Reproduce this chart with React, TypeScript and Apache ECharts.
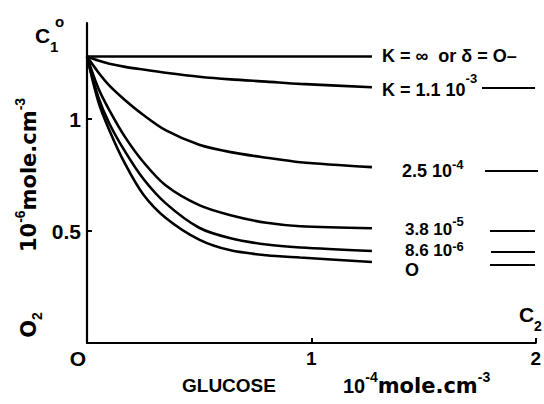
import React, { useEffect, useRef } from 'react';
import * as echarts from 'echarts';

// glucose concentration C2 (10^-4 mole.cm^-3)
const glucose = [0, 0.05, 0.1, 0.17, 0.25, 0.35, 0.5, 0.64, 0.8, 0.95, 1.27];
// O2 concentration (10^-6 mole.cm^-3) for each K
const kInfinite = [1.28, 1.28, 1.28, 1.28, 1.28, 1.28, 1.28, 1.28, 1.28, 1.28, 1.28];
const k11e3 = [1.28, 1.262, 1.248, 1.234, 1.222, 1.208, 1.19, 1.178, 1.168, 1.158, 1.143];
const k25e4 = [1.28, 1.21, 1.15, 1.085, 1.02, 0.951, 0.886, 0.853, 0.828, 0.808, 0.786];
const k38e5 = [1.28, 1.14, 1.04, 0.92, 0.81, 0.705, 0.616, 0.571, 0.537, 0.522, 0.513];
const k86e6 = [1.28, 1.1, 0.98, 0.855, 0.735, 0.625, 0.515, 0.468, 0.44, 0.427, 0.411];
const kZero = [1.28, 1.08, 0.95, 0.8, 0.665, 0.56, 0.462, 0.414, 0.392, 0.382, 0.362];

const curves = [kInfinite, k11e3, k25e4, k38e5, k86e6, kZero];
const labelMain = ['K = ∞  or δ = O–', 'K = 1.1 10', '2.5 10', '3.8 10', '8.6 10', 'O'];
const labelExp = ['', '-3', '-4', '-5', '-6', ''];

const xTicks = [1, 2];
const yTicks = [0.5, 1];

const SANS = '"Liberation Sans", Arial, sans-serif';
const WIDE = '"DejaVu Sans", sans-serif';

type Piece = { text: string; size: number; family?: string; dy?: number };

let measureCtx: CanvasRenderingContext2D | null = null;
function measure(p: Piece): number {
  if (!measureCtx) measureCtx = document.createElement('canvas').getContext('2d');
  measureCtx!.font = 'bold ' + p.size + 'px ' + (p.family || SANS);
  return measureCtx!.measureText(p.text).width;
}

// lays out a run of text pieces (with super/subscripts) along a baseline direction
function run(x0: number, y0: number, pieces: Piece[], rotation = 0, align = 'left'): any[] {
  const widths = pieces.map(measure);
  const total = widths.reduce((a, b) => a + b, 0);
  let t = align === 'center' ? -total / 2 : 0;
  const out: any[] = [];
  pieces.forEach((p, i) => {
    const c = t + widths[i] / 2;
    const dy = p.dy || 0;
    let x: number;
    let y: number;
    if (rotation) {
      x = x0 + dy;
      y = y0 - c;
    } else {
      x = x0 + c;
      y = y0 + dy;
    }
    out.push({
      type: 'text',
      x,
      y,
      rotation,
      silent: true,
      style: {
        text: p.text,
        align: 'center',
        verticalAlign: 'middle',
        textAlign: 'center',
        textVerticalAlign: 'middle',
        fill: '#000',
        fontFamily: p.family || SANS,
        fontWeight: 'bold',
        fontSize: p.size,
      },
    });
    t += widths[i];
  });
  return out;
}

function seg(x1: number, x2: number, y: number): any {
  return {
    type: 'line',
    silent: true,
    shape: { x1, y1: y, x2, y2: y },
    style: { stroke: '#000', lineWidth: 2.2 },
  };
}

export default function App() {
  const ref = useRef<HTMLDivElement>(null);
  useEffect(() => {
    const chart = echarts.init(ref.current!, null, { renderer: 'svg' });

    const labelPos = [
      [382, 56],
      [382, 90],
      [402, 171],
      [405, 229],
      [405, 250],
      [405, 270],
    ];
    const labelSize = [18, 18, 18, 17, 17, 18];
    const expRaise = [0, -12, -7, -8, -4, 0];
    const leaders: any[] = [null, [482, 535, 88], [485, 538, 171], [490, 535, 231], [491, 535, 252], [490, 535, 265]];

    let graphic: any[] = [];
    labelMain.forEach((t, i) => {
      const pieces: Piece[] = [{ text: t, size: labelSize[i] }];
      if (labelExp[i]) pieces.push({ text: labelExp[i], size: 13, dy: expRaise[i] });
      graphic = graphic.concat(run(labelPos[i][0], labelPos[i][1], pieces));
      const l = leaders[i];
      if (l) graphic.push(seg(l[0], l[1], l[2]));
    });
    // axis titles
    graphic = graphic.concat(run(182, 385, [{ text: 'GLUCOSE', size: 19 }]));
    graphic = graphic.concat(
      run(343, 386, [
        { text: '10', size: 20 },
        { text: '-4', size: 14, dy: -9 },
        { text: 'mole.cm', size: 21, family: WIDE },
        { text: '-3', size: 14, dy: -9 },
      ])
    );
    graphic = graphic.concat(
      run(
        29,
        175,
        [
          { text: '10', size: 21, family: WIDE },
          { text: '-6', size: 14, dy: -9 },
          { text: 'mole.cm', size: 21, family: WIDE },
          { text: '-3', size: 14, dy: -9 },
        ],
        Math.PI / 2,
        'center'
      )
    );
    graphic = graphic.concat(
      run(29, 325, [{ text: 'O', size: 21, family: WIDE }, { text: '2', size: 14, dy: 8 }], Math.PI / 2, 'center')
    );
    // C1° and C2
    graphic = graphic.concat(run(35, 35, [{ text: 'C', size: 21 }]));
    graphic = graphic.concat(run(50, 46, [{ text: '1', size: 15 }]));
    graphic = graphic.concat(run(55, 21, [{ text: 'o', size: 15 }]));
    graphic = graphic.concat(run(519, 314, [{ text: 'C', size: 21 }]));
    graphic = graphic.concat(run(534, 326, [{ text: '2', size: 14 }]));
    // origin label
    graphic = graphic.concat(run(78, 358, [{ text: 'O', size: 21 }], 0, 'center'));

    const option: any = {
      animation: false,
      backgroundColor: '#fff',
      grid: { left: 87, right: 7, top: 23, bottom: 61, containLabel: false },
      xAxis: {
        type: 'value',
        min: 0,
        max: 2,
        axisLine: { show: true, onZero: false, lineStyle: { color: '#000', width: 2.2 } },
        axisTick: { show: true, inside: true, length: 5, customValues: xTicks, lineStyle: { color: '#000', width: 2 } },
        axisLabel: {
          customValues: xTicks,
          color: '#000',
          fontFamily: SANS,
          fontWeight: 'bold',
          fontSize: 19,
          margin: 6,
          formatter: (v: number) => String(v),
        },
        splitLine: { show: false },
      },
      yAxis: {
        type: 'value',
        min: 0,
        max: 1.43,
        axisLine: { show: true, onZero: false, lineStyle: { color: '#000', width: 2.2 } },
        axisTick: { show: true, inside: true, length: 5, customValues: yTicks, lineStyle: { color: '#000', width: 2 } },
        axisLabel: {
          customValues: yTicks,
          color: '#000',
          fontFamily: SANS,
          fontWeight: 'bold',
          fontSize: 21,
          margin: 6,
          formatter: (v: number) => String(v),
        },
        splitLine: { show: false },
      },
      series: curves.map((c, i) => ({
        type: 'line',
        name: labelMain[i] + labelExp[i],
        data: glucose.map((x, j) => [x, c[j]]),
        showSymbol: false,
        symbol: 'none',
        smooth: 0.3,
        lineStyle: { color: '#000', width: 2.6 },
        silent: true,
      })),
      graphic,
    };
    chart.setOption(option);
    return () => chart.dispose();
  }, []);
  return (
    <div
      ref={ref}
      style={{ position: 'fixed', left: 0, top: 0, width: 544, height: 404, background: '#fff' }}
    />
  );
}
